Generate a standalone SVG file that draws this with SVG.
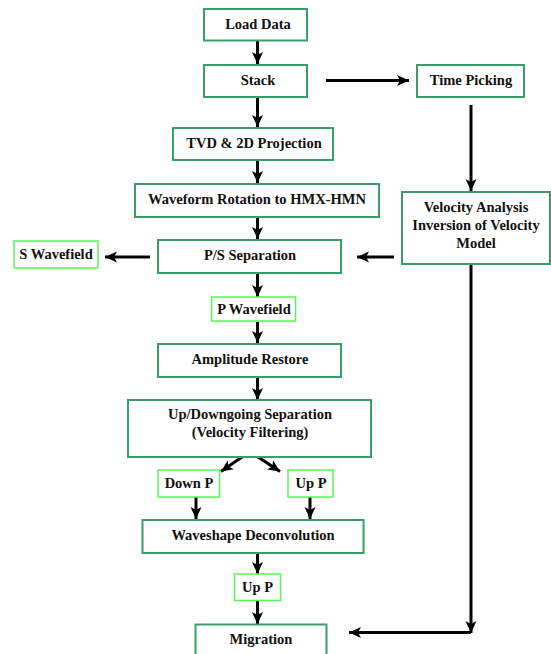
<svg xmlns="http://www.w3.org/2000/svg" width="551" height="654" viewBox="0 0 551 654">
<style>
.b{fill:#fff;stroke:#3c9c6c;stroke-width:2}
.g{fill:#fff;stroke:#5cf25c;stroke-width:1.5}
text{font-family:'Liberation Serif','Times New Roman','DejaVu Serif',serif;font-weight:bold;font-size:14.5px;fill:#111;text-anchor:middle}
.a{stroke:#000;stroke-width:3;fill:none;marker-end:url(#ah)}
</style>
<defs>
<marker id="ah" markerUnits="userSpaceOnUse" markerWidth="14" markerHeight="14" viewBox="0 0 14 14" refX="12" refY="7" orient="auto">
<path d="M0,1.5 L12,7 L0,12.5 L3,7 Z" fill="#000"/>
</marker>
</defs>
<rect width="551" height="654" fill="#fff"/>
<g id="connectors">
<line class="a" x1="257.5" y1="41" x2="257.5" y2="64"/>
<line class="a" x1="257.5" y1="97" x2="257.5" y2="127"/>
<line class="a" x1="326" y1="80.5" x2="409" y2="80.5"/>
<line class="a" x1="471" y1="105" x2="471" y2="191"/>
<line class="a" x1="257.5" y1="161" x2="257.5" y2="183"/>
<line class="a" x1="257.5" y1="217" x2="257.5" y2="239"/>
<line class="a" x1="394" y1="257" x2="357" y2="257"/>
<line class="a" x1="150" y1="257" x2="105" y2="257"/>
<line class="a" x1="257.5" y1="273" x2="257.5" y2="297"/>
<line class="a" x1="257.5" y1="322" x2="257.5" y2="343"/>
<line class="a" x1="257.5" y1="377" x2="257.5" y2="400"/>
<line class="a" x1="242" y1="457" x2="221" y2="471.5"/>
<line class="a" x1="258" y1="457" x2="280" y2="471.5"/>
<line class="a" x1="196" y1="497" x2="196" y2="519"/>
<line class="a" x1="310" y1="497" x2="310" y2="519"/>
<line class="a" x1="257.5" y1="553" x2="257.5" y2="574"/>
<line class="a" x1="257.5" y1="601" x2="257.5" y2="624"/>
<line class="a" x1="471" y1="264" x2="471" y2="633"/>
<line class="a" x1="471" y1="632.5" x2="349" y2="632.5"/>
</g>
<g id="load"><rect class="b" x="204" y="9" width="103" height="31.5"/><text x="258" y="29">Load Data</text></g>
<g id="stack"><rect class="b" x="204" y="65" width="103" height="32"/><text x="258" y="85">Stack</text></g>
<g id="timepicking"><rect class="b" x="417" y="65" width="107" height="32"/><text x="471" y="85">Time Picking</text></g>
<g id="tvd"><rect class="b" x="173" y="128" width="160" height="32"/><text x="254" y="148">TVD &amp; 2D Projection</text></g>
<g id="rotation"><rect class="b" x="135" y="184" width="244" height="33"/><text x="257" y="204">Waveform Rotation to HMX-HMN</text></g>
<g id="velocity"><rect class="b" x="402" y="192" width="148" height="72"/><text x="476" y="212">Velocity Analysis</text><text x="476" y="230">Inversion of Velocity</text><text x="476" y="248">Model</text></g>
<g id="psseparation"><rect class="b" x="158" y="240" width="183" height="33"/><text x="250" y="260">P/S Separation</text></g>
<g id="swavefield"><rect class="g" x="14" y="241" width="84" height="27"/><text x="56" y="259">S Wavefield</text></g>
<g id="pwavefield"><rect class="g" x="211.5" y="297" width="84" height="24"/><text x="254" y="314">P Wavefield</text></g>
<g id="amplitude"><rect class="b" x="158" y="344" width="183" height="33"/><text x="250" y="364">Amplitude Restore</text></g>
<g id="updown"><rect class="b" x="128" y="400" width="243" height="57"/><text x="250" y="419">Up/Downgoing Separation</text><text x="250" y="437">(Velocity Filtering)</text></g>
<g id="downp"><rect class="g" x="158" y="470" width="61.5" height="27"/><text x="189" y="488">Down P</text></g>
<g id="upp"><rect class="g" x="288" y="470" width="45" height="27"/><text x="311" y="488">Up P</text></g>
<g id="deconv"><rect class="b" x="142.5" y="520" width="221" height="33"/><text x="253" y="540">Waveshape Deconvolution</text></g>
<g id="upp2"><rect class="g" x="234.5" y="574" width="46" height="26.5"/><text x="257.5" y="592">Up P</text></g>
<g id="migration"><rect class="b" x="195.5" y="624.5" width="131" height="40"/><text x="261" y="644">Migration</text></g>
</svg>
